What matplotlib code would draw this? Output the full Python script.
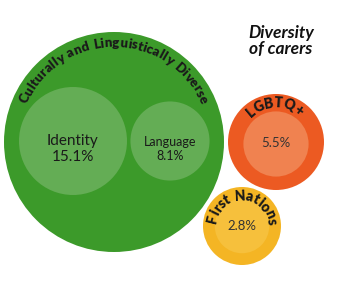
import numpy as np
import matplotlib.pyplot as plt
from matplotlib.patches import Circle

# === DATA ===
groups = ["Culturally and Linguistically Diverse", "LGBTQ+", "First Nations"]
sub_labels = ["Identity", "Language"]
sub_values = [15.1, 8.1]
lgbtq_value = 5.5
first_nations_value = 2.8
title = "Diversity\nof carers"

# === LAYOUT (pixel units, y down) ===
W, H = 350, 293
outer = {
    "cald": ((114, 142), 110),
    "lgbtq": ((276, 142), 48),
    "fn": ((242, 226), 39),
}
sub_centres = [(73, 141), (170, 141)]
k = 54 / np.sqrt(15.1)  # inner radius scale (area proportional)

dark = {"cald": "#3c9a2a", "lgbtq": "#ec5a22", "fn": "#f4b524"}
light = {"cald": "#64ad55", "lgbtq": "#f08250", "fn": "#f6c03c"}

plt.rcParams['font.family'] = ['Lato', 'DejaVu Sans']

fig = plt.figure(figsize=(W / 100, H / 100), dpi=100)
ax = fig.add_axes([0, 0, 1, 1])
ax.set_xlim(0, W)
ax.set_ylim(H, 0)
ax.set_aspect('equal')
ax.axis('off')
renderer = fig.canvas.get_renderer()


def arc_text(text, centre, radius, mid_deg, size, weight='heavy', track=0.0):
    cx, cy = centre
    widths = []
    for ch in text:
        t = ax.text(0, 0, "n" if ch == " " else ch, fontsize=size, fontweight=weight)
        bb = t.get_window_extent(renderer=renderer)
        widths.append(bb.width * (0.55 if ch == " " else 1.0) + track)
        t.remove()
    total = sum(widths)
    span = np.degrees(total / radius)
    ang = mid_deg + span / 2
    for ch, w in zip(text, widths):
        a = ang - np.degrees(w / 2 / radius)
        x = cx + radius * np.cos(np.radians(a))
        y = cy - radius * np.sin(np.radians(a))
        ax.text(x, y, ch, fontsize=size, fontweight=weight, color="#1a1a1a",
                rotation=a - 90, rotation_mode='anchor',
                ha='center', va='center')
        ang -= np.degrees(w / radius)


# big green circle
(c, r) = outer["cald"]
ax.add_patch(Circle(c, r, color=dark["cald"], lw=0))
for lab, val, sc in zip(sub_labels, sub_values, sub_centres):
    ax.add_patch(Circle(sc, k * np.sqrt(val), color=light["cald"], lw=0))
    fs = 11 if lab == "Identity" else 9
    ax.text(sc[0], sc[1] + 7, lab, fontsize=fs, ha='center', va='bottom', color="#1a1a1a")
    ax.text(sc[0], sc[1] + 9, f"{val}%", fontsize=fs, ha='center', va='top', color="#1a1a1a")
arc_text(groups[0], c, 99, 90, 9.5, track=0.3)

# LGBTQ+
(c, r) = outer["lgbtq"]
ax.add_patch(Circle(c, r, color=dark["lgbtq"], lw=0))
ax.add_patch(Circle((c[0], c[1] + 2), k * np.sqrt(lgbtq_value), color=light["lgbtq"], lw=0))
ax.text(c[0], c[1] + 1, f"{lgbtq_value}%", fontsize=9.5, ha='center', va='center', color="#333333")
arc_text(groups[1], c, 39, 92, 10, track=0.8)

# First Nations
(c, r) = outer["fn"]
ax.add_patch(Circle(c, r, color=dark["fn"], lw=0))
ax.add_patch(Circle(c, k * np.sqrt(first_nations_value) + 4, color=light["fn"], lw=0))
ax.text(c[0], c[1], f"{first_nations_value}%", fontsize=9.5, ha='center', va='center', color="#333333")
arc_text(groups[2], c, 30, 88, 10, track=0.6)

ax.text(281, 41, title, fontsize=12.5, fontweight='bold', fontstyle='italic',
        ha='center', va='center', linespacing=0.95, color="#111111")

fig.savefig("out.png", dpi=100)
